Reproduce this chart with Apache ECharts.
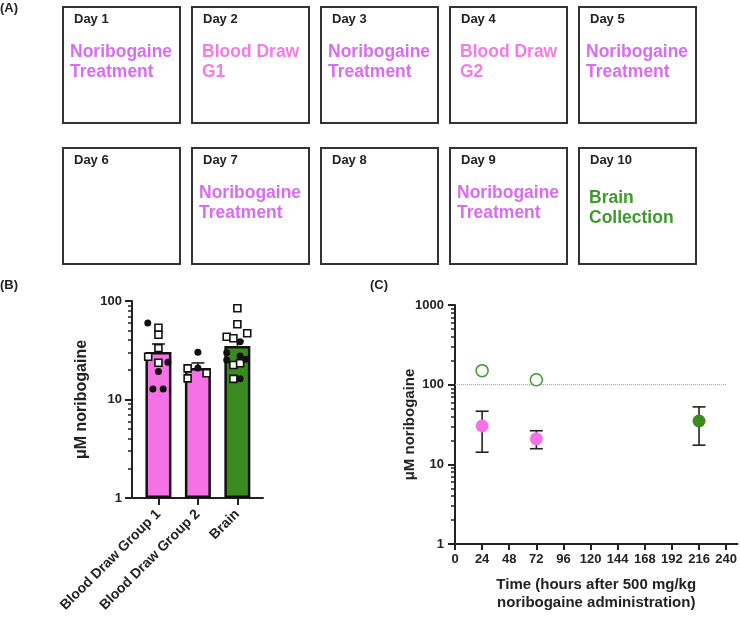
<!DOCTYPE html>
<html>
<head>
<meta charset="utf-8">
<script src="https://cdn.jsdelivr.net/npm/echarts@6/dist/echarts.min.js"></script>
<style>
  html, body { margin: 0; padding: 0; background: #fff; }
  #chart { width: 740px; height: 625px; }
</style>
</head>
<body>
<div id="chart"></div>
<script>
// ---- panel A: schedule ----
var dayLabels = ['Day 1', 'Day 2', 'Day 3', 'Day 4', 'Day 5', 'Day 6', 'Day 7', 'Day 8', 'Day 9', 'Day 10'];
var dayEvents = ['Noribogaine\nTreatment', 'Blood Draw\nG1', 'Noribogaine\nTreatment', 'Blood Draw\nG2', 'Noribogaine\nTreatment',
                 '', 'Noribogaine\nTreatment', '', 'Noribogaine\nTreatment', 'Brain\nCollection'];
var eventKinds = ['treat', 'draw', 'treat', 'draw', 'treat', '', 'treat', '', 'treat', 'brain'];

// ---- panel B: bars with individual points ----
var groupNames = ['Blood Draw Group 1', 'Blood Draw Group 2', 'Brain'];
var groupMeans = [30.3, 20.9, 35.0];
var groupSemTop = [36.6, 23.5, 39.3];

var g1Circles = [59.8, 23.9, 19.2, 12.8, 12.8];
var g1CircleJitter = [-0.27, 0.24, 0, -0.14, 0.12];
var g1Squares = [53.6, 45.5, 33.2, 27.2, 23.6];
var g1SquareJitter = [0, 0, 0, -0.26, 0];

var g2Circles = [30.1, 20.9];
var g2CircleJitter = [0, 0];
var g2Squares = [20.7, 16.4, 18.5];
var g2SquareJitter = [-0.26, -0.26, 0.22];

var g3Circles = [38.6, 29.9, 27.7, 25.2, 25.6, 16.2];
var g3CircleJitter = [0.07, -0.27, 0.07, -0.27, 0.21, 0.07];
var g3Squares = [84.3, 58.0, 43.4, 47.0, 41.8, 22.4, 23.3, 16.2];
var g3SquareJitter = [0, 0, -0.27, 0.25, -0.1, -0.1, 0.07, -0.1];

// ---- panel C: time course ----
var timeTicks = [0, 24, 48, 72, 96, 120, 144, 168, 192, 216, 240];
var bloodHours = [24, 72];
var bloodMean = [30.3, 20.9];
var bloodLow = [14.2, 15.7];
var bloodHigh = [46.4, 26.4];
var brainHours = [216];
var brainMean = [35.0];
var brainLow = [17.4];
var brainHigh = [52.6];
var openHours = [24, 72];
var openValues = [150, 115];
var refLevel = 100;

var PINK = '#f472e4';
var GREEN = '#3b8a1f';
var PURPLE = '#d96cf3';
var PINK_TXT = '#f57ae6';
var GREEN_TXT = '#3d9a2b';
var FONT = 'Liberation Sans, Arial, Helvetica, sans-serif';

function minorLogTicks(maxDecade) {
  var out = [];
  for (var d = 0; d < maxDecade; d++) {
    for (var k = 2; k <= 9; k++) out.push(k * Math.pow(10, d));
  }
  return out;
}

function points(values, jitter, center) {
  return values.map(function (v, i) { return [center + jitter[i], v]; });
}

// graphic elements for panel A
var graphics = [];
var boxW = 117, boxH = 116, pitch = 129, x0 = 63, rowY = [7, 148];
var eventColor = { treat: PURPLE, draw: PINK_TXT, brain: GREEN_TXT };
dayLabels.forEach(function (lab, i) {
  var col = i % 5, row = Math.floor(i / 5);
  var bx = x0 + col * pitch, by = rowY[row];
  graphics.push({ type: 'rect', shape: { x: bx, y: by, width: boxW, height: boxH },
    style: { fill: '#fff', stroke: '#333', lineWidth: 2 } });
  graphics.push({ type: 'text', x: bx + 11, y: by + 6,
    style: { text: lab, font: 'bold 13px ' + FONT, fill: '#222' } });
  if (dayEvents[i]) {
    var kind = eventKinds[i];
    graphics.push({ type: 'text', x: bx + (kind === 'treat' ? 7 : 10), y: by + (kind === 'brain' ? 40 : 35),
      style: { text: dayEvents[i], font: 'bold 17.5px ' + FONT, fill: eventColor[kind], lineHeight: 20 } });
  }
});
graphics.push({ type: 'text', x: 0, y: 2, style: { text: '(A)', font: 'bold 13px ' + FONT, fill: '#222' } });
graphics.push({ type: 'text', x: 0, y: 279, style: { text: '(B)', font: 'bold 13px ' + FONT, fill: '#222' } });
graphics.push({ type: 'text', x: 370, y: 279, style: { text: '(C)', font: 'bold 13px ' + FONT, fill: '#222' } });

function errorBar(capBottom) {
  return function (params, api) {
    var x = api.value(0);
    var lo = api.coord([x, api.value(1)]);
    var hi = api.coord([x, api.value(2)]);
    var hw = 6.5;
    var st = { stroke: '#222', lineWidth: 1.6 };
    var kids = [
      { type: 'line', shape: { x1: hi[0], y1: hi[1], x2: lo[0], y2: lo[1] }, style: st },
      { type: 'line', shape: { x1: hi[0] - hw, y1: hi[1], x2: hi[0] + hw, y2: hi[1] }, style: st }
    ];
    if (capBottom) kids.push({ type: 'line', shape: { x1: lo[0] - hw, y1: lo[1], x2: lo[0] + hw, y2: lo[1] }, style: st });
    return { type: 'group', children: kids };
  };
}

var axisLineStyle = { color: '#222', width: 2 };
var tickLabel = { color: '#222', fontWeight: 'bold', fontSize: 13, fontFamily: FONT };
function plain(v) { return String(Math.round(v)); }

var chart = echarts.init(document.getElementById('chart'));
var option = {
  backgroundColor: '#fff',
  animation: false,
  graphic: graphics,
  grid: [
    { left: 132, top: 301, width: 131, height: 197 },
    { left: 455, top: 305, width: 283, height: 239 }
  ],
  xAxis: [
    {
      gridIndex: 0, type: 'value', min: -0.67, max: 2.65,
      splitLine: { show: false },
      axisLine: { onZero: false, lineStyle: axisLineStyle },
      axisTick: { customValues: [0, 1, 2], length: 7, lineStyle: { width: 2, color: '#222' } },
      axisLabel: Object.assign({}, tickLabel, {
        customValues: [0, 1, 2], rotate: 45, margin: 14, fontSize: 14,
        formatter: function (v) { return groupNames[Math.round(v)]; }
      })
    },
    {
      gridIndex: 1, type: 'value', min: 0, max: 250,
      splitLine: { show: false },
      axisLine: { onZero: false, lineStyle: axisLineStyle },
      axisTick: { customValues: timeTicks, length: 6, lineStyle: { width: 2, color: '#222' } },
      axisLabel: Object.assign({}, tickLabel, { customValues: timeTicks, margin: 9 }),
      name: 'Time (hours after 500 mg/kg\nnoribogaine administration)',
      nameLocation: 'middle', nameGap: 32,
      nameTextStyle: { color: '#222', fontWeight: 'bold', fontSize: 15, fontFamily: FONT, lineHeight: 18 }
    }
  ],
  yAxis: [
    {
      gridIndex: 0, type: 'log', logBase: 10, min: 1, max: 100, position: 'left',
      splitLine: { show: false },
      axisLine: { onZero: false, lineStyle: axisLineStyle },
      axisTick: { length: 7, lineStyle: { width: 2, color: '#222' } },
      axisLabel: Object.assign({}, tickLabel, { margin: 10, formatter: plain }),
      name: 'μM noribogaine', nameLocation: 'middle', nameGap: 42, nameMoveOverlap: false,
      nameTextStyle: { color: '#222', fontWeight: 'bold', fontSize: 16, fontFamily: FONT }
    },
    {
      gridIndex: 0, type: 'log', logBase: 10, min: 1, max: 100, position: 'left', offset: 0,
      splitLine: { show: false },
      axisLine: { show: false, onZero: false },
      axisLabel: { show: false },
      axisTick: { customValues: minorLogTicks(2), length: 4, lineStyle: { width: 1.5, color: '#222' } }
    },
    {
      gridIndex: 1, type: 'log', logBase: 10, min: 1, max: 1000, position: 'left',
      splitLine: { show: false },
      axisLine: { onZero: false, lineStyle: axisLineStyle },
      axisTick: { length: 7, lineStyle: { width: 2, color: '#222' } },
      axisLabel: Object.assign({}, tickLabel, { margin: 11, formatter: plain }),
      name: 'μM noribogaine', nameLocation: 'middle', nameGap: 38, nameMoveOverlap: false,
      nameTextStyle: { color: '#222', fontWeight: 'bold', fontSize: 15, fontFamily: FONT }
    },
    {
      gridIndex: 1, type: 'log', logBase: 10, min: 1, max: 1000, position: 'left', offset: 0,
      splitLine: { show: false },
      axisLine: { show: false, onZero: false },
      axisLabel: { show: false },
      axisTick: { customValues: minorLogTicks(3), length: 4, lineStyle: { width: 1.5, color: '#222' } }
    }
  ],
  series: [
    {
      type: 'bar', xAxisIndex: 0, yAxisIndex: 0, barWidth: 26,
      itemStyle: { borderColor: '#111', borderWidth: 2.5 },
      data: groupMeans.map(function (v, i) {
        return { value: [i, v], itemStyle: { color: i === 2 ? GREEN : PINK } };
      }),
      z: 2
    },
    {
      type: 'custom', xAxisIndex: 0, yAxisIndex: 0, renderItem: errorBar(false),
      encode: { x: 0, y: [1, 2] },
      data: groupMeans.map(function (v, i) { return [i, v, groupSemTop[i]]; }),
      z: 3
    },
    {
      type: 'scatter', xAxisIndex: 0, yAxisIndex: 0, symbol: 'circle', symbolSize: 7,
      itemStyle: { color: '#111', opacity: 1 },
      data: points(g1Circles, g1CircleJitter, 0).concat(points(g2Circles, g2CircleJitter, 1), points(g3Circles, g3CircleJitter, 2)),
      z: 5
    },
    {
      type: 'scatter', xAxisIndex: 0, yAxisIndex: 0, symbol: 'rect', symbolSize: 7,
      itemStyle: { color: '#fff', borderColor: '#111', borderWidth: 1.6, opacity: 1 },
      data: points(g1Squares, g1SquareJitter, 0).concat(points(g2Squares, g2SquareJitter, 1), points(g3Squares, g3SquareJitter, 2)),
      z: 4
    },
    {
      type: 'line', xAxisIndex: 1, yAxisIndex: 2, symbol: 'none', silent: true,
      lineStyle: { color: '#999', width: 1, type: 'dotted' },
      data: [[0, refLevel], [240, refLevel]],
      z: 1
    },
    {
      type: 'custom', xAxisIndex: 1, yAxisIndex: 2, renderItem: errorBar(true),
      encode: { x: 0, y: [1, 2] },
      data: bloodHours.map(function (h, i) { return [h, bloodLow[i], bloodHigh[i]]; })
        .concat(brainHours.map(function (h, i) { return [h, brainLow[i], brainHigh[i]]; })),
      z: 3
    },
    {
      type: 'scatter', xAxisIndex: 1, yAxisIndex: 2, symbol: 'circle', symbolSize: 13,
      itemStyle: { color: PINK, opacity: 1 },
      data: bloodHours.map(function (h, i) { return [h, bloodMean[i]]; }),
      z: 4
    },
    {
      type: 'scatter', xAxisIndex: 1, yAxisIndex: 2, symbol: 'circle', symbolSize: 13,
      itemStyle: { color: GREEN, opacity: 1 },
      data: brainHours.map(function (h, i) { return [h, brainMean[i]]; }),
      z: 4
    },
    {
      type: 'scatter', xAxisIndex: 1, yAxisIndex: 2, symbol: 'circle', symbolSize: 12,
      itemStyle: { color: '#fff', borderColor: '#3d9a2b', borderWidth: 1.5, opacity: 1 },
      data: openHours.map(function (h, i) { return [h, openValues[i]]; }),
      z: 4
    }
  ]
};
chart.setOption(option);
</script>
</body>
</html>
